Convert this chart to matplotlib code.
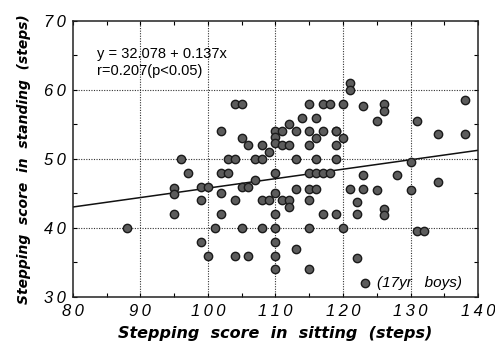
import matplotlib

matplotlib.use("Agg")
import matplotlib.pyplot as plt
import numpy as np

plt.rcParams["font.family"] = ["Liberation Sans", "DejaVu Sans"]

# stepping scores (17yr boys)
sitting = [
    88, 95, 95, 95, 96, 97, 99, 100, 99, 99, 100, 101, 102, 102, 102, 103,
    102, 103, 104, 104, 105, 104, 104, 105, 105, 106, 105, 106, 106, 107,
    107, 108, 108, 108, 109, 108, 109, 110, 110, 110, 110, 110, 110, 110,
    110, 110, 110, 111, 111, 112, 111, 112, 112, 112, 113, 113, 113, 113,
    114, 116, 115, 117, 118, 120, 115, 115, 115, 116, 117, 118, 115, 116,
    115, 115, 115, 116, 116, 117, 117, 119, 119, 120, 119, 119, 119, 120,
    121, 121, 121, 122, 122, 122, 123, 123, 123, 125, 125, 126, 126, 126,
    126, 128, 130, 130, 131, 131, 132, 134, 134, 138, 138,
]
standing = [
    40, 45.8, 44.9, 42, 50, 48, 46, 46, 44, 38, 36, 40, 42, 45, 48, 48,
    54, 50, 50, 58, 58, 44, 36, 53, 46, 46, 40, 52, 36, 47,
    50, 50, 52, 44, 44, 40, 51, 54, 53.2, 52.3, 48, 45, 42, 40,
    38, 36, 34, 54, 52, 52, 44, 44, 43, 55, 54, 50, 45.7, 37,
    56, 56, 58, 58, 58, 58, 54, 52, 48, 48, 48, 48, 45.7, 45.7,
    44, 40, 34, 53, 50, 54, 42, 42, 54, 53, 52, 50, 54, 40,
    61, 60, 45.7, 43.7, 42, 35.6, 57.7, 47.7, 45.7, 55.5, 45.5, 58, 57,
    42.7, 41.9, 47.7, 49.6, 45.5, 55.5, 39.6, 39.6, 53.6, 46.6, 58.5, 53.6,
]
INTERCEPT = 32.078
SLOPE = 0.137

x_ticks = [80, 90, 100, 110, 120, 130, 140]
y_ticks = [30, 40, 50, 60, 70]


def spaced(v):
    return "\u2009".join(str(v))


fig = plt.figure(figsize=(4.95, 3.49), dpi=100)
ax = fig.add_axes([0.147, 0.149, 0.819, 0.791])

ax.set_xlim(80, 140)
ax.set_ylim(30, 70)
ax.set_xticks(x_ticks)
ax.set_yticks(y_ticks)
ax.set_xticklabels([spaced(v) for v in x_ticks], fontstyle="italic",
                   fontsize=12)
ax.set_yticklabels([spaced(v) for v in y_ticks], fontstyle="italic",
                   fontsize=12)
ax.set_xticks(np.arange(85, 140, 10), minor=True)
ax.set_yticks(np.arange(35, 70, 10), minor=True)
ax.tick_params(which="both", direction="in", length=3, width=0.8,
               top=True, right=True, pad=5)
for sp in ax.spines.values():
    sp.set_linewidth(1.1)
    sp.set_color("#222222")

# dotted grid at the inner major ticks only
for v in x_ticks[1:-1]:
    ax.axvline(v, color="#333333", linestyle=(0, (1, 1.3)), linewidth=0.8,
               zorder=1)
for v in y_ticks[1:-1]:
    ax.axhline(v, color="#333333", linestyle=(0, (1, 1.3)), linewidth=0.8,
               zorder=1)

xs = np.array([80, 140])
ax.plot(xs, INTERCEPT + SLOPE * xs, color="#111111", linewidth=1.1, zorder=2)

ax.scatter(sitting, standing, s=36, facecolors="#5c5c5c",
           edgecolors="#1a1a1a", linewidths=1.0, zorder=3)

ax.text(0.06, 0.88, f"y = {INTERCEPT} + {SLOPE}x", transform=ax.transAxes,
        fontsize=10.5, ha="left", va="center")
ax.text(0.06, 0.82, "r=0.207(p<0.05)", transform=ax.transAxes,
        fontsize=10.5, ha="left", va="center")

# legend entry
ax.scatter([123.2], [32.0], s=36, facecolors="#5c5c5c",
           edgecolors="#1a1a1a", linewidths=1.0, zorder=3)
ax.text(125.0, 32.0, "(17yr   boys)", fontsize=11, fontstyle="italic",
        ha="left", va="center")

label_font = dict(family="DejaVu Sans", fontweight="bold", fontstyle="italic")
ax.set_xlabel("Stepping  score  in  sitting  (steps)", fontsize=11.5,
              labelpad=5, **label_font)
ax.set_ylabel("Stepping  score  in  standing  (steps)", fontsize=10,
              labelpad=9, **label_font)

fig.savefig("out.png")
